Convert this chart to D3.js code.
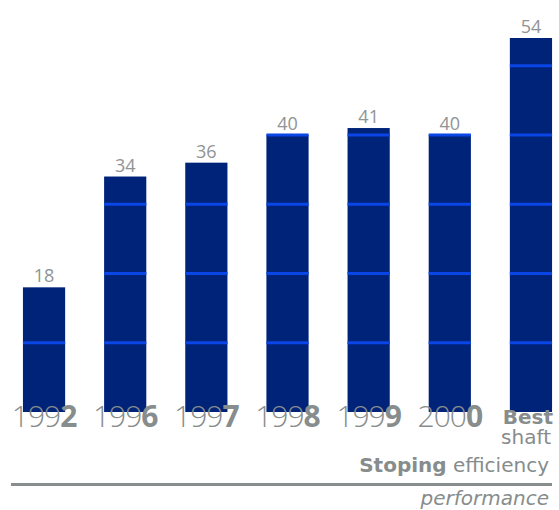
<!DOCTYPE html>
<html>
<head>
<meta charset="utf-8">
<script src="https://cdn.jsdelivr.net/npm/d3@7"></script>
<style>
  body { margin: 0; background: #fff; }
  svg text { font-family: "Open Sans", "Liberation Sans", sans-serif; }
  svg text.side { font-family: "DejaVu Sans", sans-serif; }
</style>
</head>
<body>
<div id="chart"></div>
<script>
// data
const categories = ["1992", "1996", "1997", "1998", "1999", "2000", "Best shaft"];
const values = [18, 34, 36, 40, 41, 40, 54];
const gridValues = [10, 20, 30, 40, 50];

const width = 559;
const height = 510;
const grey = "#878c8c";

const svg = d3.select("#chart")
    .append("svg")
    .attr("width", width)
    .attr("height", height);

const x = d3.scaleBand()
    .domain(categories)
    .range([-16, 591])
    .padding(0.48);

const y = d3.scaleLinear()
    .domain([0, 54])
    .range([412, 38]);

const data = categories.map((c, i) => ({ cat: c, value: values[i] }));

const bars = svg.selectAll(".bar")
    .data(data)
    .enter().append("g")
    .attr("class", "bar");

bars.append("rect")
    .attr("x", d => x(d.cat))
    .attr("y", d => y(d.value))
    .attr("width", x.bandwidth())
    .attr("height", d => y(0) - y(d.value))
    .attr("fill", "#00237a");

// light blue lines inside each bar at every 10
bars.each(function(d) {
    d3.select(this).selectAll("line")
        .data(gridValues.filter(g => g <= d.value))
        .enter().append("line")
        .attr("x1", x(d.cat))
        .attr("x2", x(d.cat) + x.bandwidth())
        .attr("y1", g => y(g))
        .attr("y2", g => y(g))
        .attr("stroke", "#0a45e6")
        .attr("stroke-width", 3);
});

// value labels
bars.append("text")
    .attr("x", d => x(d.cat) + x.bandwidth() / 2)
    .attr("y", d => y(d.value) - 5)
    .attr("text-anchor", "middle")
    .attr("fill", "#8f9494")
    .style("font-size", "18px")
    .text(d => d.value);

// year labels, last digit bold
const years = svg.selectAll(".year")
    .data(data.slice(0, 6))
    .enter().append("text")
    .attr("class", "year")
    .attr("x", d => x(d.cat) + x.bandwidth() / 2)
    .attr("y", 427)
    .attr("text-anchor", "middle")
    .attr("fill", grey)
    .style("font-size", "30px")
    .style("letter-spacing", "-1px");

years.append("tspan")
    .style("font-weight", 300)
    .text(d => d.cat.slice(0, 3));
years.append("tspan")
    .style("font-weight", 700)
    .text(d => d.cat.slice(3));

// last category label
const last = categories[categories.length - 1].split(" ");
svg.append("text")
    .attr("class", "side")
    .attr("x", 553)
    .attr("y", 424)
    .attr("text-anchor", "end")
    .attr("fill", grey)
    .style("font-size", "20px")
    .style("font-weight", 700)
    .text(last[0]);

svg.append("text")
    .attr("class", "side")
    .attr("x", 551)
    .attr("y", 444)
    .attr("text-anchor", "end")
    .attr("fill", grey)
    .style("font-size", "20px")
    .text(last[1]);

// title block
const title = svg.append("text")
    .attr("class", "side")
    .attr("x", 549)
    .attr("y", 472)
    .attr("text-anchor", "end")
    .attr("fill", grey)
    .style("font-size", "20px");
title.append("tspan").style("font-weight", 700).text("Stoping");
title.append("tspan").text(" efficiency");

svg.append("line")
    .attr("x1", 11)
    .attr("x2", 552)
    .attr("y1", 484.5)
    .attr("y2", 484.5)
    .attr("stroke", grey)
    .attr("stroke-width", 3);

svg.append("text")
    .attr("class", "side")
    .attr("x", 549)
    .attr("y", 505)
    .attr("text-anchor", "end")
    .attr("fill", grey)
    .style("font-size", "20px")
    .style("font-style", "italic")
    .text("performance");
</script>
</body>
</html>
